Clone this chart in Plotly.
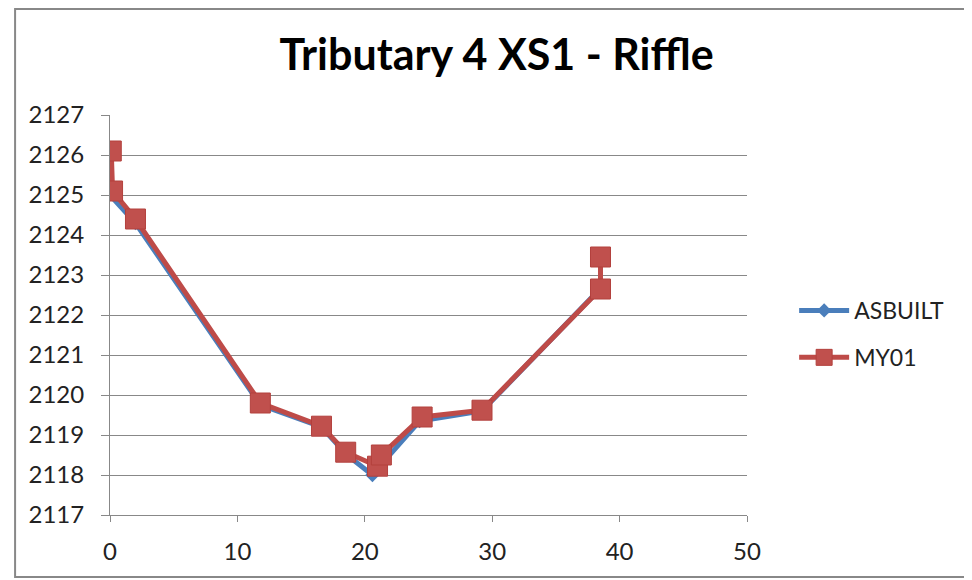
import plotly.graph_objects as go

title_text = "Tributary 4 XS1 - Riffle"
asbuilt_x = [-0.3, 2.0, 11.8, 16.6, 18.6, 20.6, 21.4, 24.3, 29.2, 38.3]
asbuilt_y = [2125.1, 2124.3, 2119.75, 2119.2, 2118.5, 2118.0, 2118.3, 2119.35, 2119.6, 2122.6]
my01_x = [0.1, 0.2, 2.0, 11.8, 16.6, 18.5, 21.0, 21.3, 24.5, 29.2, 38.5, 38.5]
my01_y = [2126.1, 2125.1, 2124.4, 2119.8, 2119.22, 2118.57, 2118.22, 2118.5, 2119.45, 2119.62, 2122.65, 2123.45]
x_ticks = [0, 10, 20, 30, 40, 50]
y_ticks = list(range(2117, 2128))

fig = go.Figure()
fig.add_trace(go.Scatter(x=asbuilt_x, y=asbuilt_y, name="ASBUILT", mode="lines+markers",
                         legendgroup="a",
                         line=dict(color="#4A7EBB", width=5),
                         marker=dict(symbol="diamond", size=11, color="#4A7EBB")))
fig.add_trace(go.Scatter(x=my01_x, y=my01_y, name="MY01", mode="lines+markers",
                         legendgroup="b",
                         line=dict(color="#BE4B48", width=5),
                         marker=dict(symbol="square", size=20, color="#C0504D",
                                     line=dict(color="#B3403D", width=1))))

FONT = "Lato, Open Sans, sans-serif"
tickfont = dict(family=FONT, size=24, color="#222")
fig.update_layout(
    width=964, height=572,
    paper_bgcolor="white", plot_bgcolor="white",
    margin=dict(l=102, r=225, t=107, b=65),
    title=dict(text="<b>" + title_text + "</b>", x=0.607, xref="paper", xanchor="center",
               y=0.918, yanchor="middle",
               font=dict(family=FONT, size=43, color="black")),
    xaxis=dict(range=[0, 50], tickvals=x_ticks, showgrid=False, showline=True, linecolor="#888",
               linewidth=1, ticks="outside", ticklen=6, tickcolor="#888", tickfont=tickfont,
               zeroline=False, ticklabelstandoff=9),
    yaxis=dict(range=[2117, 2127], tickvals=y_ticks, showgrid=True, gridcolor="#888", gridwidth=1,
               showline=True, linecolor="#888", linewidth=1, ticks="outside", ticklen=8,
               tickcolor="#888", tickfont=tickfont, zeroline=False, ticklabelstandoff=12),
    legend=dict(x=1.074, y=0.4525, yanchor="middle", xanchor="left",
                font=dict(family=FONT, size=23, color="#222"),
                itemwidth=50, tracegroupgap=14, bgcolor="rgba(0,0,0,0)"),
    showlegend=True,
)
fig.add_shape(type="rect", xref="paper", yref="paper", x0=-0.149, x1=1.347, y0=-0.155, y1=1.265,
              line=dict(color="#888", width=2), fillcolor="rgba(0,0,0,0)", layer="below")
fig.write_html("out.html")
